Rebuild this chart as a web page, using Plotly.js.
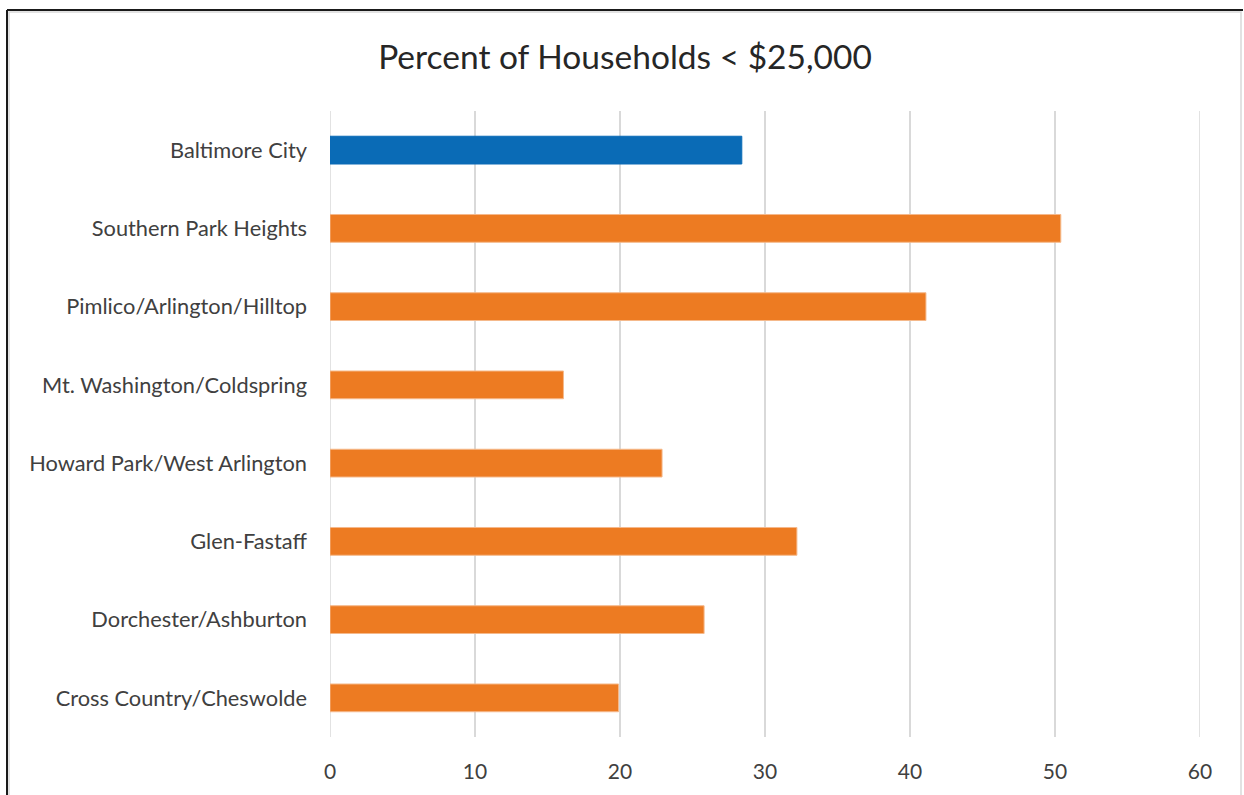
<!DOCTYPE html>
<html>
<head>
<meta charset="utf-8">
<script src="https://cdn.plot.ly/plotly-3.0.1.min.js"></script>
<style>html,body{margin:0;padding:0;background:#fff;}#chart{width:1244px;height:795px;}</style>
</head>
<body>
<div id="chart"></div>
<script>
const categories = [
  "Baltimore City",
  "Southern Park Heights",
  "Pimlico/Arlington/Hilltop",
  "Mt. Washington/Coldspring",
  "Howard Park/West Arlington",
  "Glen-Fastaff",
  "Dorchester/Ashburton",
  "Cross Country/Cheswolde"
];
const values = [28.4, 50.4, 41.1, 16.1, 22.9, 32.2, 25.8, 19.9];
const xTicks = [0, 10, 20, 30, 40, 50, 60];
const titleText = "Percent of Households < $25,000";

const barColors = categories.map((c, i) => i === 0 ? "#0a6bb6" : "#ed7b22");
const lineColors = categories.map((c, i) => i === 0 ? "#0a6bb6" : "#f5b98b");

const trace = {
  type: "bar",
  orientation: "h",
  y: categories,
  x: values,
  width: 0.355,
  marker: { color: barColors, line: { color: lineColors, width: 1 } },
  hoverinfo: "x+y"
};

const gridColor = "#d9d9d9";

const layout = {
  width: 1244,
  height: 795,
  margin: { l: 330, r: 44, t: 111, b: 58 },
  paper_bgcolor: "#ffffff",
  plot_bgcolor: "#ffffff",
  showlegend: false,
  font: { family: "Lato, 'Open Sans', sans-serif", color: "#404040" },
  title: {
    text: titleText,
    xref: "container", yref: "container",
    x: 625/1244, xanchor: "center",
    y: 1 - 57/795, yanchor: "middle",
    font: { size: 33.5, color: "#262626", family: "Lato, 'Open Sans', sans-serif" }
  },
  xaxis: {
    range: [0, 60],
    tickvals: xTicks,
    ticktext: xTicks.map(String),
    showgrid: true,
    gridcolor: gridColor,
    gridwidth: 1.5,
    zeroline: false,
    showline: false,
    ticks: "",
    ticklen: 0,
    ticklabelstandoff: 20,
    tickfont: { size: 21, color: "#404040" },
    fixedrange: true
  },
  yaxis: {
    type: "category",
    autorange: "reversed",
    showgrid: false,
    zeroline: false,
    showline: false,
    ticks: "",
    ticklabelstandoff: 22,
    tickfont: { size: 21.8, color: "#404040" },
    fixedrange: true
  },
  shapes: [
    { type: "line", xref: "x", yref: "paper", x0: 0, x1: 0, y0: 0, y1: 1, line: { color: gridColor, width: 1.5 }, layer: "below" },
    { type: "line", xref: "x", yref: "paper", x0: 60, x1: 60, y0: 0, y1: 1, line: { color: gridColor, width: 1.5 }, layer: "below" },
    { type: "rect", xref: "paper", yref: "paper",
      x0: -321/870, x1: 911/870, y0: -0.2, y1: 1 + 99/626,
      line: { color: gridColor, width: 1.5 }, fillcolor: "rgba(0,0,0,0)" },
    { type: "line", xref: "paper", yref: "paper",
      x0: -323/870, x1: 913/870, y0: 1 + 101/626, y1: 1 + 101/626,
      line: { color: "#1a1a1a", width: 2 } },
    { type: "line", xref: "paper", yref: "paper",
      x0: -323/870, x1: -323/870, y0: -0.2, y1: 1 + 101/626,
      line: { color: "#1a1a1a", width: 2 } }
  ]
};

Plotly.newPlot("chart", [trace], layout, { displayModeBar: false, staticPlot: true });
</script>
</body>
</html>
